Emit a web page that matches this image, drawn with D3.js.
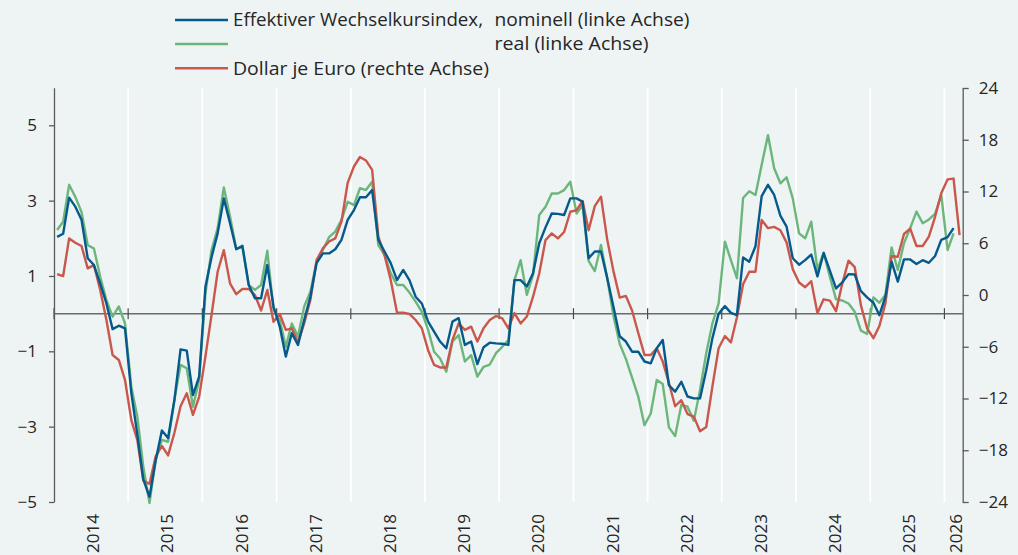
<!DOCTYPE html>
<html>
<head>
<meta charset="utf-8">
<script src="https://cdn.jsdelivr.net/npm/d3@7"></script>
<style>
  html, body { margin: 0; padding: 0; background: #eef4f4; }
  svg { display: block; font-family: "Open Sans", "DejaVu Sans", sans-serif; }
</style>
</head>
<body>
<svg id="chart" width="1018" height="555"></svg>
<script>
// Monthly series, starting January 2014 (% deviation from long-run average)
const firstMonth = new Date(2014, 0, 1);
const lastMonthEnd = new Date(2026, 3, 1);

// Effective exchange rate index, nominal (left axis)
const nominal = [
  2.04, 2.12, 3.08, 2.84, 2.49, 1.47, 1.29, 0.80, 0.27, -0.41, -0.32, -0.39,
  -2.10, -3.20, -4.40, -4.86, -3.90, -3.10, -3.30, -2.30, -0.95, -0.98, -2.16, -1.67,
  0.72, 1.50, 2.13, 3.06, 2.40, 1.71, 1.80, 0.76, 0.41, 0.41, 1.29, 0.19,
  -0.35, -1.14, -0.52, -0.83, -0.17, 0.45, 1.34, 1.60, 1.60, 1.71, 1.96, 2.49,
  2.75, 3.09, 3.09, 3.28, 1.96, 1.65, 1.34, 0.89, 1.16, 0.89, 0.45, 0.27,
  -0.21, -0.48, -0.74, -0.92, -0.21, -0.12, -0.83, -0.74, -1.34, -0.89, -0.77, -0.79,
  -0.80, -0.83, 0.89, 0.89, 0.72, 1.07, 1.87, 2.29, 2.66, 2.65, 2.62, 3.06,
  3.06, 2.97, 1.47, 1.65, 1.65, 0.95, 0.19, -0.60, -0.74, -1.01, -1.01, -1.27,
  -1.32, -0.92, -0.70, -1.90, -2.07, -1.81, -2.20, -2.25, -2.25, -1.50, -0.65, 0.00,
  0.20, 0.02, -0.04, 1.49, 1.38, 1.79, 3.12, 3.42, 3.15, 2.60, 2.31, 1.47,
  1.30, 1.42, 1.57, 0.99, 1.61, 1.14, 0.67, 0.83, 1.05, 1.04, 0.60, 0.43,
  0.29, -0.04, 0.45, 1.38, 0.85, 1.44, 1.44, 1.32, 1.42, 1.35, 1.53, 1.96,
  2.03, 2.27
];

// Effective exchange rate index, real (left axis)
const real = [
  2.22, 2.44, 3.42, 3.10, 2.70, 1.82, 1.73, 0.98, 0.36, -0.08, 0.19, -0.26,
  -1.94, -2.73, -4.06, -5.03, -3.88, -3.35, -3.40, -2.30, -1.36, -1.45, -2.47, -1.76,
  0.54, 1.69, 2.27, 3.35, 2.58, 1.73, 1.76, 0.76, 0.63, 0.76, 1.67, 0.10,
  -0.17, -0.88, -0.26, -0.61, 0.19, 0.58, 1.38, 1.69, 2.03, 2.18, 2.49, 2.97,
  2.88, 3.33, 3.28, 3.50, 1.82, 1.56, 1.07, 0.76, 0.76, 0.56, 0.32, 0.05,
  -0.43, -1.01, -1.19, -1.54, -0.74, -0.57, -1.27, -1.10, -1.67, -1.41, -1.35, -1.05,
  -0.88, -0.70, 0.89, 1.42, 0.50, 1.03, 2.62, 2.84, 3.19, 3.19, 3.28, 3.50,
  2.66, 2.88, 1.40, 1.13, 1.82, 0.95, -0.05, -0.80, -1.20, -1.70, -2.20, -2.96,
  -2.65, -1.76, -1.87, -3.02, -3.25, -2.42, -2.47, -2.84, -2.03, -1.05, -0.26, 0.27,
  1.91, 1.42, 0.94, 3.07, 3.25, 3.15, 3.95, 4.74, 3.86, 3.46, 3.62, 3.06,
  2.13, 2.00, 2.44, 1.16, 1.62, 0.98, 0.38, 0.35, 0.27, 0.05, -0.45, -0.54,
  0.43, 0.29, 0.50, 1.76, 1.16, 1.87, 2.27, 2.71, 2.40, 2.50, 2.65, 3.15,
  1.69, 2.13
];

// US dollar per euro (right axis)
const usdPerEur = [
  2.43, 2.20, 6.56, 6.06, 5.68, 3.09, 3.47, 0.58, -2.90, -6.95, -7.53, -9.85,
  -14.5, -16.8, -21.5, -21.9, -18.7, -17.5, -18.6, -16.0, -12.9, -11.4, -13.9, -11.8,
  -7.1, -2.3, 2.7, 5.2, 1.35, 0.1, 0.7, 0.7, 0.0, -1.8, 0.58, -3.1,
  -2.2, -4.05, -3.86, -5.5, -3.3, -0.58, 4.05, 5.4, 6.2, 6.56, 8.5, 13.0,
  14.9, 16.0, 15.6, 14.5, 6.76, 4.6, 1.74, -2.05, -2.05, -2.2, -2.9, -3.86,
  -6.4, -8.1, -8.4, -8.4, -5.2, -3.3, -4.05, -3.67, -5.4, -3.86, -2.9, -2.43,
  -2.7, -3.86, -2.1, -3.3, -2.5, -0.2, 2.5, 6.37, 7.14, 6.56, 7.3, 9.65,
  9.85, 10.9, 7.5, 10.3, 11.4, 6.45, 2.8, -0.3, -0.1, -1.8, -4.4, -6.95,
  -6.95, -6.18, -7.72, -10.2, -12.9, -12.2, -13.8, -14.1, -15.8, -15.3, -10.6, -6.18,
  -4.75, -5.5, -2.6, 1.25, 2.7, 2.7, 8.7, 7.75, 7.9, 7.5, 6.1, 3.0,
  1.45, 0.9, 1.6, -2.1, -0.5, -0.66, -1.87, 1.35, 3.98, 3.24, -1.2, -3.86,
  -5.0, -3.6, -0.97, 4.5, 4.44, 7.07, 7.7, 5.68, 5.68, 6.76, 9.07, 11.8,
  13.4, 13.5, 6.95
];

const leftTicks = [-5, -3, -1, 1, 3, 5];
const rightTicks = [-24, -18, -12, -6, 0, 6, 12, 18, 24];
const yearLabels = d3.range(2014, 2027);

// Legend rows: first text part at the left, second part in an aligned column
const legendRows = [
  { color: "#06598b", label: "Effektiver Wechselkursindex,", len: 250, label2: "nominell (linke Achse)", len2: 195 },
  { color: "#6cb67c", label: "", len: 0, label2: "real (linke Achse)", len2: 154 },
  { color: "#c9574c", label: "Dollar je Euro (rechte Achse)", len: 256, label2: "", len2: 0 }
];

const series = [
  { values: real, color: "#6cb67c", axis: "left" },
  { values: usdPerEur, color: "#c9574c", axis: "right" },
  { values: nominal, color: "#06598b", axis: "left" }
];

// Layout
const plot = { left: 54, right: 962.7, top: 88, bottom: 502 };
const svg = d3.select("#chart");
const axisColor = "#5a5a5a";
const textColor = "#262626";

const x = d3.scaleTime().domain([firstMonth, lastMonthEnd]).range([plot.left, plot.right]);
const yLeft = d3.scaleLinear().domain([-5, 6]).range([plot.bottom, plot.bottom - 11 * (plot.bottom - 125.3) / 10]);
const yRight = d3.scaleLinear().domain([-24, 24]).range([plot.bottom, plot.top]);

// center of a calendar month on the time axis
const monthCenter = d => (x(d) + x(d3.timeMonth.offset(d, 1))) / 2;
const monthOf = i => d3.timeMonth.offset(firstMonth, i);

// Year boundaries: white grid lines
const yearStarts = yearLabels.map(y => new Date(y, 0, 1));
svg.append("g")
  .selectAll("line")
  .data(yearStarts.slice(1))
  .join("line")
  .attr("x1", d => x(d)).attr("x2", d => x(d))
  .attr("y1", plot.top).attr("y2", plot.bottom)
  .attr("stroke", "#ffffff")
  .attr("stroke-width", 1.8);

// Zero line of the left axis with small year marks
const zeroY = yLeft(0);
svg.append("line")
  .attr("x1", plot.left).attr("x2", plot.right)
  .attr("y1", zeroY).attr("y2", zeroY)
  .attr("stroke", "#6b6b6b").attr("stroke-width", 1.5);
svg.append("g")
  .selectAll("line")
  .data(yearStarts)
  .join("line")
  .attr("x1", d => x(d)).attr("x2", d => x(d))
  .attr("y1", zeroY - 5.5).attr("y2", zeroY + 5.5)
  .attr("stroke", "#4a4a4a").attr("stroke-width", 1.2);

// Data lines
series.forEach(s => {
  const yScale = s.axis === "left" ? yLeft : yRight;
  const line = d3.line()
    .x((d, i) => monthCenter(monthOf(i)))
    .y(d => yScale(d));
  svg.append("path")
    .datum(s.values)
    .attr("d", line)
    .attr("fill", "none")
    .attr("stroke", s.color)
    .attr("stroke-width", 2.4)
    .attr("stroke-linejoin", "round");
});

// Axes
const leftAxis = svg.append("g")
  .attr("transform", `translate(${plot.left},0)`)
  .call(d3.axisLeft(yLeft).tickValues(leftTicks).tickSize(5).tickSizeOuter(0).tickPadding(12));
const rightAxis = svg.append("g")
  .attr("transform", `translate(${plot.right},0)`)
  .call(d3.axisRight(yRight).tickValues(rightTicks).tickSize(6).tickSizeOuter(0).tickPadding(10));
[leftAxis, rightAxis].forEach(g => {
  g.select(".domain").attr("stroke", axisColor).attr("stroke-width", 1.3);
  g.selectAll(".tick line").attr("stroke", axisColor).attr("stroke-width", 1.3);
  g.selectAll(".tick text")
    .attr("fill", textColor)
    .style("font-size", "17px")
    .style("font-family", '"Open Sans", "DejaVu Sans", sans-serif');
});

// Year labels, rotated, centred in the visible part of each year
svg.append("g")
  .selectAll("text")
  .data(yearLabels)
  .join("text")
  .attr("transform", y => {
    const a = x(new Date(y, 0, 1));
    const b = Math.min(x(new Date(y + 1, 0, 1)), plot.right);
    return `translate(${(a + b) / 2 + 2},514) rotate(-90)`;
  })
  .attr("text-anchor", "end")
  .attr("dy", "0.36em")
  .attr("fill", textColor)
  .style("font-size", "17px")
  .text(d => d);

// Legend
const legend = svg.append("g");
const rowY = [20, 44, 68.3];
legendRows.forEach((r, i) => {
  const g = legend.append("g").attr("transform", `translate(0,${rowY[i]})`);
  g.append("line")
    .attr("x1", 175).attr("x2", 228)
    .attr("stroke", r.color).attr("stroke-width", 2.6);
  if (r.label) {
    g.append("text")
      .attr("x", 233).attr("dy", "0.36em")
      .attr("fill", textColor)
      .attr("textLength", r.len)
      .attr("lengthAdjust", "spacingAndGlyphs")
      .style("font-size", "18px")
      .text(r.label);
  }
  if (r.label2) {
    g.append("text")
      .attr("x", 494.5).attr("dy", "0.36em")
      .attr("fill", textColor)
      .attr("textLength", r.len2)
      .attr("lengthAdjust", "spacingAndGlyphs")
      .style("font-size", "18px")
      .text(r.label2);
  }
});
</script>
</body>
</html>
